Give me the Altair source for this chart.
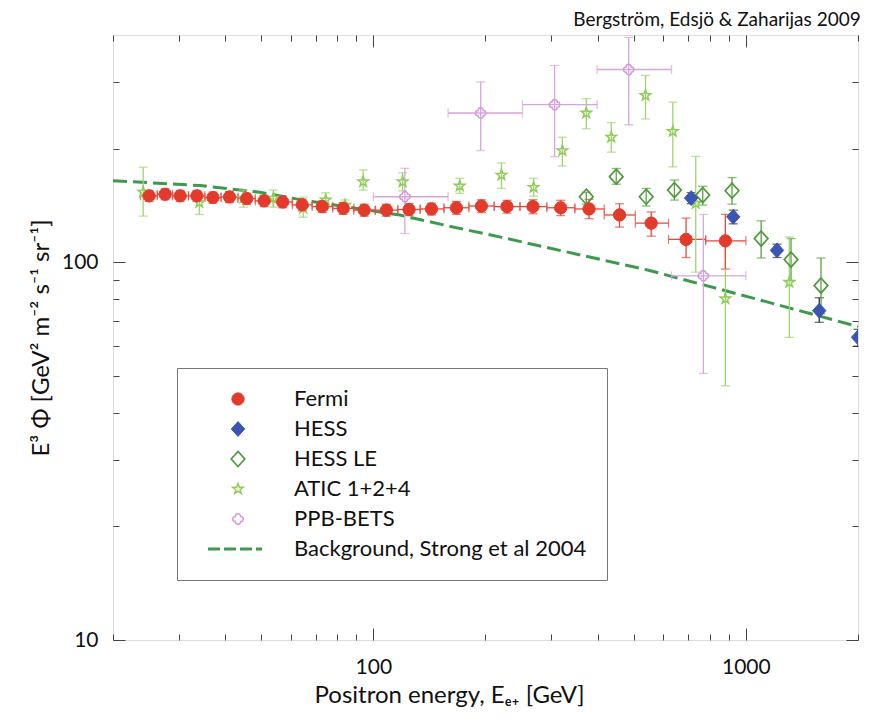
import altair as alt
import pandas as pd

SERIES = ["Fermi", "HESS", "HESS LE", "ATIC 1+2+4", "PPB-BETS", "Background, Strong et al 2004"]

# ---- Fermi ----
fermi_e = [25.0, 27.6, 30.3, 33.6, 37.1, 41.1, 45.7, 50.9, 57.1, 64.4, 72.9, 83.0, 94.5, 108.4, 124.7,
           143.2, 167.1, 195.0, 228.4, 268.2, 318.3, 379.3, 458.0, 557, 691, 881]
fermi_y = [150, 151.5, 150, 150, 148.5, 149, 147.5, 145.5, 144.5, 142, 140.5, 139, 137.5, 137.5, 138,
           138.5, 139.5, 141, 140.5, 140.5, 139.5, 138.5, 133.5, 127, 115, 114]
fermi_lo = [145, 146.5, 145, 145, 143.5, 144, 142.5, 140.5, 139.5, 137, 135.5, 134, 132.5, 132.5, 133,
            133.5, 134, 135.5, 135, 134.5, 133, 130.5, 124, 117.3, 103, 96]
fermi_hi = [155, 156.5, 155, 155, 153.5, 154, 152.5, 150.5, 149.5, 147, 145.5, 144, 142.5, 142.5, 143,
            143.5, 145, 146.5, 146, 146.5, 146, 146.8, 143, 136, 131, 134]
fermi_elo = [23.7, 26.3, 28.9, 31.9, 35.3, 39.0, 43.3, 48.2, 53.9, 60.6, 68.5, 77.8, 88.6, 101.2, 116.3,
             133.6, 154.7, 180.5, 211, 247.5, 292.2, 347.5, 416.8, 505, 620, 780]
fermi_ehi = [26.3, 28.9, 31.9, 35.3, 39.0, 43.3, 48.2, 53.9, 60.6, 68.5, 77.8, 88.6, 101.2, 116.3, 133.6,
             154.7, 180.5, 211, 247.5, 292.2, 347.5, 416.8, 505, 620, 780, 1000]

# ---- HESS ----
hess_e = [713, 925, 1212, 1574, 2000]
hess_y = [148, 132, 107.6, 74.5, 63.3]
hess_lo = [143, 126.5, 103, 69.4, 60]
hess_hi = [153, 137.5, 111.7, 80.6, 66.5]

# ---- HESS LE ----
hle_e = [372.9, 448.7, 540, 643, 766, 918, 1099, 1322, 1591]
hle_y = [149.2, 168.6, 149.2, 155.4, 150.7, 154.8, 115.6, 101.7, 86.8]
hle_lo = [142.6, 161, 141, 146.2, 141.8, 142.6, 102.7, 89.5, 73.1]
hle_hi = [153.3, 177.3, 157, 165.2, 159, 167.7, 128.8, 115.6, 102.7]

# ---- ATIC 1+2+4 ----
atic_e = [24.1, 34.1, 44.8, 53.9, 64.8, 74.5, 83.9, 93.9, 119.8, 170.6, 220.7, 269.3, 321.6, 372.9,
          435.2, 537.8, 636.6, 733.6, 881, 1308]
atic_y = [153.5, 144, 148, 148, 139.2, 146.3, 141.8, 163.5, 163.5, 159.3, 170.3, 158, 197.7, 248.6,
          214.6, 276.8, 222.1, 143.2, 80.1, 88.6]
atic_lo = [132.6, 133.9, 140, 140, 131.7, 139.2, 135.8, 155.4, 154.7, 152.3, 157, 149.7, 180, 225.8,
           195.8, 239.7, 179.1, 94.2, 47.1, 63.3]
atic_hi = [178.6, 150.7, 155.4, 155.4, 148.8, 152.8, 146.3, 175.6, 172.6, 167, 183.3, 167, 214.5, 271.2,
           234.5, 312.6, 265.6, 190.9, 115.8, 116.8]

# ---- PPB-BETS ----
ppb_e = [121.5, 194.1, 306.6, 484.6, 769]
ppb_y = [149.2, 248.6, 261.6, 324.1, 92.1]
ppb_lo = [119.2, 197.7, 190.5, 231.4, 50.8]
ppb_hi = [177.5, 300.6, 332.1, 394.2, 133.9]
ppb_elo = [100, 158.7, 251.4, 398.8, 631.6]
ppb_ehi = [158.7, 251.4, 398.8, 631.6, 1000]

# ---- Background (Strong et al 2004) ----
bg_e = [20, 34.3, 49.6, 63.6, 117.8, 160, 218, 551, 1022, 2000]
bg_y = [164.5, 159.7, 153.3, 146.6, 133.4, 124.7, 116.8, 95.2, 80.9, 67.6]

x_ticks = [20, 30, 40, 50, 60, 70, 80, 90, 100, 200, 300, 400, 500, 600, 700, 800, 900, 1000, 2000]
y_ticks = [10, 20, 30, 40, 50, 60, 70, 80, 90, 100, 200, 300]

# ---------------- build tables ----------------
def pts_df(name, e, y):
    return pd.DataFrame({"series": name, "E": e, "v": y})

points = pd.concat([
    pts_df("ATIC 1+2+4", atic_e, atic_y),
    pts_df("PPB-BETS", ppb_e, ppb_y),
    pts_df("HESS LE", hle_e, hle_y),
    pts_df("Fermi", fermi_e, fermi_y),
    pts_df("HESS", hess_e, hess_y),
], ignore_index=True)

verr = pd.concat([
    pd.DataFrame({"series": "ATIC 1+2+4", "E": atic_e, "lo": atic_lo, "hi": atic_hi}),
    pd.DataFrame({"series": "PPB-BETS", "E": ppb_e, "lo": ppb_lo, "hi": ppb_hi}),
    pd.DataFrame({"series": "HESS LE", "E": hle_e, "lo": hle_lo, "hi": hle_hi}),
    pd.DataFrame({"series": "Fermi", "E": fermi_e, "lo": fermi_lo, "hi": fermi_hi}),
    pd.DataFrame({"series": "HESS", "E": hess_e, "lo": hess_lo, "hi": hess_hi}),
], ignore_index=True)

herr = pd.concat([
    pd.DataFrame({"series": "PPB-BETS", "v": ppb_y, "elo": ppb_elo, "ehi": ppb_ehi}),
    pd.DataFrame({"series": "Fermi", "v": fermi_y, "elo": fermi_elo, "ehi": fermi_ehi}),
], ignore_index=True)

bg = pd.DataFrame({"E": bg_e, "v": bg_y})

W, H = 745, 605
FONT = "Lato"

xs = alt.Scale(type="log", domain=[20, 2000], nice=False)
ys = alt.Scale(type="log", domain=[10, 400], nice=False)

# symbol paths
circle_p = "M1,0A1,1,0,1,1,-1,0A1,1,0,1,1,1,0Z"
diamond_p = "M0,-1L0.9,0L0,1L-0.9,0Z"
star_p = ("M0,-1L0.235,-0.324L0.951,-0.309L0.380,0.124L0.588,0.809L0,0.4L-0.588,0.809"
          "L-0.380,0.124L-0.951,-0.309L-0.235,-0.324Z")
quatre_p = ("M-0.5,-0.5A0.5,0.5,0,0,1,0.5,-0.5A0.5,0.5,0,0,1,0.5,0.5"
            "A0.5,0.5,0,0,1,-0.5,0.5A0.5,0.5,0,0,1,-0.5,-0.5Z")
dash_p = "M-6,0H-3.6M-2.8,0H-0.4M0.4,0H2.8M3.6,0H4.8"

shape_range = [circle_p, diamond_p, diamond_p, star_p, quatre_p, dash_p]
fill_range = ["#e23b2b", "#3b55b3", "transparent", "transparent", "transparent", "transparent"]
stroke_range = ["#e23b2b", "#3b55b3", "#4f9a3c", "#8fcc58", "#d49ad9", "#3c9a4c"]
size_range = [150, 220, 230, 120, 110, 100]
sw_range = [1, 1, 1.7, 1.5, 1.5, 3]
err_colors = ["#e5473a", "#333333", "#5aa044", "#9fd46e", "#d8a4dd"]

leg = alt.Legend(
    title=None, orient="none", legendX=64, legendY=333,
    padding=20, strokeColor="#777777", fillColor="white",
    labelFont=FONT, labelFontSize=22, labelColor="#111111", labelLimit=0,
    rowPadding=8, symbolOffset=30, labelOffset=45, symbolType="circle",
)

pts_layer = alt.Chart(points).mark_point(opacity=1, clip=True).encode(
    x=alt.X("E:Q", scale=xs, axis=None),
    y=alt.Y("v:Q", scale=ys, axis=None),
    shape=alt.Shape("series:N", scale=alt.Scale(domain=SERIES, range=shape_range), legend=leg),
    fill=alt.Fill("series:N", scale=alt.Scale(domain=SERIES, range=fill_range), legend=leg),
    stroke=alt.Stroke("series:N", scale=alt.Scale(domain=SERIES, range=stroke_range), legend=leg),
    size=alt.Size("series:N", scale=alt.Scale(type="ordinal", domain=SERIES, range=size_range), legend=leg),
    strokeWidth=alt.StrokeWidth("series:N", scale=alt.Scale(type="ordinal", domain=SERIES, range=sw_range),
                                legend=leg),
)

ecol = alt.Color("series:N", scale=alt.Scale(domain=SERIES[:5], range=err_colors), legend=None)

verr_layer = alt.Chart(verr).mark_errorbar(ticks=True, size=9, thickness=1.3, clip=True).encode(
    x=alt.X("E:Q", scale=xs, axis=None),
    y=alt.Y("lo:Q", scale=ys, axis=None),
    y2="hi:Q",
    color=ecol,
)

herr_layer = alt.Chart(herr).mark_errorbar(ticks=True, size=9, thickness=1.3, clip=True).encode(
    x=alt.X("elo:Q", scale=xs, axis=None),
    x2="ehi:Q",
    y=alt.Y("v:Q", scale=ys, axis=None),
    color=ecol,
)

bg_layer = alt.Chart(bg).mark_line(color="#3c9a4c", strokeWidth=3, strokeDash=[14, 6], clip=True).encode(
    x=alt.X("E:Q", scale=xs, axis=None),
    y=alt.Y("v:Q", scale=ys, axis=None),
)

xcond = {"condition": {"test": "datum.value == 100 || datum.value == 1000", "value": 12}, "value": 6}
ycond = {"condition": {"test": "datum.value == 10 || datum.value == 100", "value": 12}, "value": 6}

ax_main = alt.Chart(bg).mark_point(opacity=0).encode(
    x=alt.X("E:Q", scale=xs, axis=alt.Axis(
        orient="bottom", values=[100, 1000], format="d", ticks=False, tickSize=0, domain=False, grid=False,
        title="Positron energy, Eₑ₊ [GeV]", labelFont=FONT, labelFontSize=21, labelColor="#111111",
        labelPadding=16, titleFont=FONT, titleFontSize=24, titleFontWeight="normal", titleColor="#111111",
        titlePadding=6, titleX=336, titleAlign="center")),
    y=alt.Y("v:Q", scale=ys, axis=alt.Axis(
        orient="left", values=[10, 100], format="d", ticks=False, tickSize=0, domain=False, grid=False,
        title="E³ Φ [GeV² m⁻² s⁻¹ sr⁻¹]", labelFont=FONT, labelFontSize=21, labelColor="#111111",
        labelPadding=15, titleFont=FONT, titleFontSize=24, titleFontWeight="normal", titleColor="#111111",
        titlePadding=8)),
)

ax_in1 = alt.Chart(bg).mark_point(opacity=0).encode(
    x=alt.X("E:Q", scale=xs, axis=alt.Axis(
        orient="top", offset=-H, values=x_ticks, labels=False, domain=False, grid=False, title=None,
        tickSize=xcond, tickColor="#444444", tickWidth=1)),
    y=alt.Y("v:Q", scale=ys, axis=alt.Axis(
        orient="right", offset=-W, values=y_ticks, labels=False, domain=False, grid=False, title=None,
        tickSize=ycond, tickColor="#444444", tickWidth=1)),
)

ax_in2 = alt.Chart(bg).mark_point(opacity=0).encode(
    x=alt.X("E:Q", scale=xs, axis=alt.Axis(
        orient="bottom", offset=-H, values=x_ticks, labels=False, domain=False, grid=False, title=None,
        tickSize=xcond, tickColor="#444444", tickWidth=1)),
    y=alt.Y("v:Q", scale=ys, axis=alt.Axis(
        orient="left", offset=-W, values=y_ticks, labels=False, domain=False, grid=False, title=None,
        tickSize=ycond, tickColor="#444444", tickWidth=1)),
)

chart = alt.layer(
    ax_main, ax_in1, ax_in2, bg_layer, herr_layer, verr_layer, pts_layer
).resolve_axis(
    x="independent", y="independent"
).properties(
    width=W, height=H,
    autosize=alt.AutoSizeParams(type="none"),
    padding={"left": 105, "top": 27, "right": 12, "bottom": 70},
    title=alt.TitleParams("Bergström, Edsjö & Zaharijas 2009", anchor="end", font=FONT, fontSize=19,
                          fontWeight="normal", color="#111111", offset=5),
).configure_view(
    stroke="#666666", strokeWidth=2
).configure(background="white")

chart.save("out.html", embed_options={"renderer": "svg", "actions": False})
